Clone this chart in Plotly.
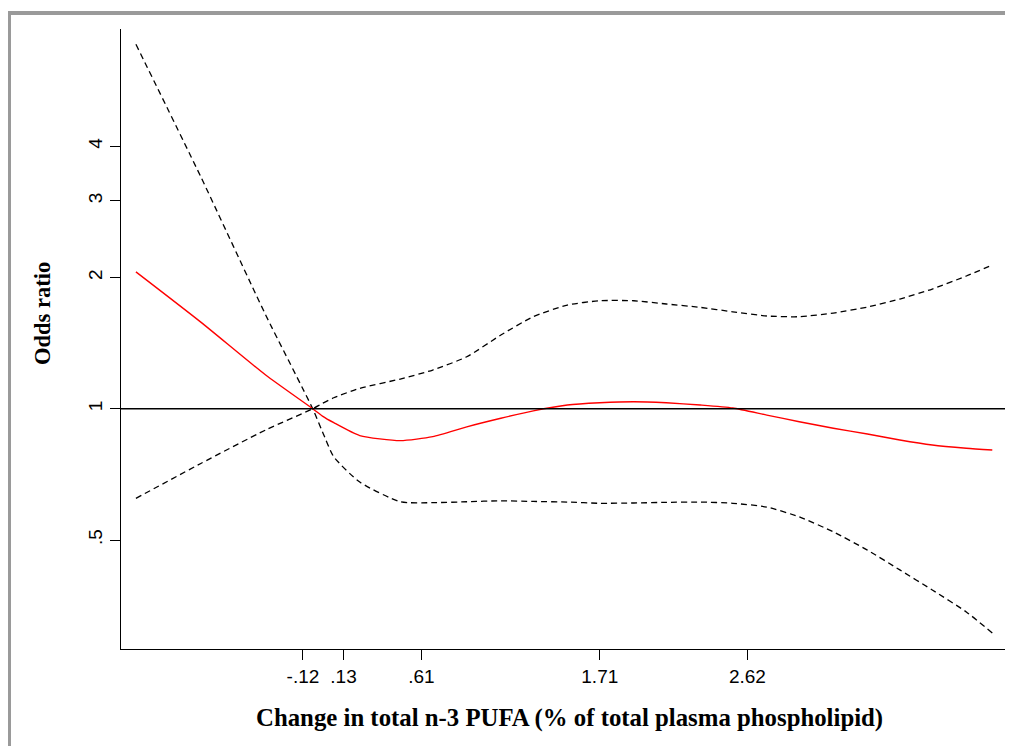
import plotly.graph_objects as go

# Data
x_vals = [-1.15, -0.75, -0.35, -0.06, 0.0, 0.07, 0.23, 0.48, 0.68, 0.89, 1.10, 1.30,
          1.51, 1.71, 1.92, 2.12, 2.33, 2.53, 2.74, 2.94, 3.15, 3.36, 3.56,
          3.76, 3.97, 4.13]
odds_ratio = [2.06, 1.58, 1.195, 1.0, 0.962, 0.929, 0.868, 0.845, 0.863, 0.909, 0.951,
              0.989, 1.020, 1.032, 1.038, 1.032, 1.020, 1.004, 0.967, 0.934,
              0.902, 0.875, 0.848, 0.826, 0.812, 0.804]
ci_a = [0.623, 0.749, 0.894, 1.0, 1.029, 1.06, 1.114, 1.170, 1.227, 1.316, 1.476, 1.626,
        1.729, 1.769, 1.769, 1.739, 1.708, 1.669, 1.632, 1.626, 1.658, 1.711,
        1.785, 1.882, 2.016, 2.136]
ci_b = [6.855, 3.404, 1.641, 1.0, 0.886, 0.776, 0.679, 0.612, 0.609, 0.612, 0.615, 0.613,
        0.611, 0.607, 0.608, 0.610, 0.611, 0.607, 0.595, 0.565, 0.522, 0.474,
        0.427, 0.384, 0.342, 0.306]

x_tickvals = [-0.12, 0.13, 0.61, 1.71, 2.62]
x_ticktext = ["-.12", ".13", ".61", "1.71", "2.62"]
y_tickvals = [0.5, 1, 2, 3, 4]
y_ticktext = [".5", "1", "2", "3", "4"]

x_title = "Change in total n-3 PUFA (% of total plasma phospholipid)"
y_title = "Odds ratio"

fig = go.Figure()
fig.add_trace(go.Scatter(x=x_vals, y=ci_a, mode="lines",
                         line=dict(color="black", width=1.3, dash="6px,4px", shape="spline", smoothing=0.6),
                         showlegend=False, hoverinfo="skip"))
fig.add_trace(go.Scatter(x=x_vals, y=ci_b, mode="lines",
                         line=dict(color="black", width=1.3, dash="6px,4px", shape="spline", smoothing=0.6),
                         showlegend=False, hoverinfo="skip"))
fig.add_trace(go.Scatter(x=x_vals, y=odds_ratio, mode="lines",
                         line=dict(color="#ff0000", width=1.4, shape="spline", smoothing=0.6),
                         showlegend=False, hoverinfo="skip"))

# page body has an 8px margin, so the figure is drawn offset by 8px
OFF = 8
W, H = 1005, 738
L, R, T, B = 113, 4, 21, 97
pw, ph = W - L - R, H - T - B

def px2paper_x(px):  # px in window coordinates
    return (px - OFF - L) / pw

def py2paper_y(py):  # py in window coordinates
    return (H - B - (py - OFF)) / ph

shapes = [
    # reference line at OR = 1
    dict(type="line", xref="paper", yref="y", x0=0, x1=1, y0=1, y1=1,
         line=dict(color="black", width=1.3)),
    # gray frame (top and left)
    dict(type="line", xref="paper", yref="paper",
         x0=px2paper_x(8), x1=px2paper_x(1014), y0=py2paper_y(13), y1=py2paper_y(13),
         line=dict(color="#9a9a9a", width=4)),
    dict(type="line", xref="paper", yref="paper",
         x0=px2paper_x(9.5), x1=px2paper_x(9.5), y0=py2paper_y(11), y1=py2paper_y(746),
         line=dict(color="#9a9a9a", width=3)),
]

fig.update_layout(
    width=W, height=H,
    margin=dict(l=L, r=R, t=T, b=B),
    paper_bgcolor="white", plot_bgcolor="white",
    font=dict(family="Liberation Sans, Arial", color="black", size=19),
    shapes=shapes,
    annotations=[
        dict(text="<b>" + x_title + "</b>", xref="paper", yref="paper",
             x=px2paper_x(569), y=py2paper_y(718), xanchor="center", yanchor="middle",
             showarrow=False, font=dict(family="Liberation Serif, Times New Roman", size=24.8, color="black")),
        dict(text="<b>" + y_title + "</b>", xref="paper", yref="paper",
             x=px2paper_x(42), y=py2paper_y(314), xanchor="center", yanchor="middle",
             textangle=-90, showarrow=False,
             font=dict(family="Liberation Serif, Times New Roman", size=22.5, color="black")),
    ],
)
fig.update_xaxes(range=[-1.242, 4.233], showgrid=False, zeroline=False,
                 showline=True, linecolor="black", linewidth=1.3,
                 ticks="outside", ticklen=10, tickcolor="black", tickwidth=1.3,
                 tickvals=x_tickvals, ticktext=x_ticktext,
                 tickfont=dict(family="Liberation Sans, Arial", size=19, color="black"))
fig.update_yaxes(type="log", range=[-0.551, 0.871], showgrid=False, zeroline=False,
                 showline=True, linecolor="black", linewidth=1.3,
                 ticks="outside", ticklen=10, tickcolor="black", tickwidth=1.3,
                 tickvals=y_tickvals, ticktext=y_ticktext, tickangle=-90,
                 tickfont=dict(family="Liberation Sans, Arial", size=19, color="black"))

fig.write_html("out.html")
